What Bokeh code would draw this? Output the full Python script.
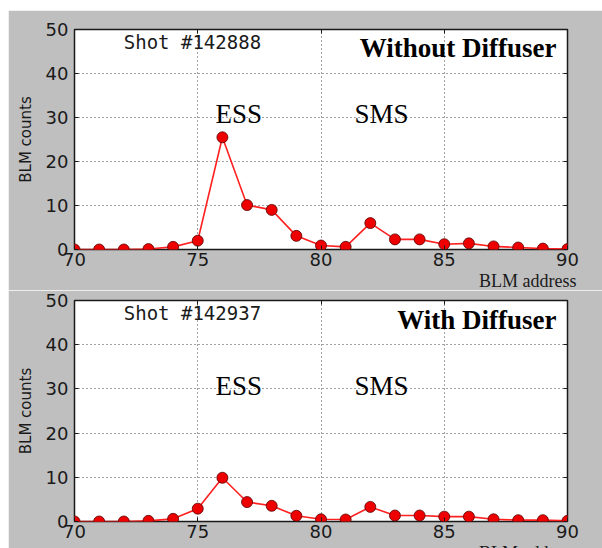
from bokeh.plotting import figure
from bokeh.layouts import column
from bokeh.models import (ColumnDataSource, FixedTicker, LinearAxis, Label,
                          CustomJSTickFormatter, Range1d, Title)
from bokeh.embed import file_html
from bokeh.resources import INLINE

# ---- data ----
blm_address = list(range(70, 91))
counts_without = [0, 0, 0, 0.1, 0.6, 2.0, 25.5, 10.1, 9.0, 3.1, 0.9, 0.6,
                  6.0, 2.3, 2.3, 1.2, 1.4, 0.7, 0.45, 0.2, 0.1]
counts_with = [0, 0, 0, 0.15, 0.6, 2.9, 9.9, 4.4, 3.55, 1.3, 0.5, 0.45,
               3.3, 1.35, 1.35, 1.1, 1.1, 0.5, 0.3, 0.3, 0.15]
x_ticks = [70, 75, 80, 85, 90]
y_ticks = [0, 10, 20, 30, 40, 50]
shots = ["Shot #142888", "Shot #142937"]
titles = ["Without Diffuser", "With Diffuser"]

GREY = "#bfbfbf"


def make_panel(counts, shot, title, border_top, frame_h, border_bottom, margin):
    p = figure(frame_width=493, frame_height=frame_h,
               min_border_left=66, min_border_right=35,
               min_border_top=border_top, min_border_bottom=border_bottom,
               x_range=Range1d(70, 90), y_range=Range1d(0, 50),
               output_backend="svg", toolbar_location=None,
               background_fill_color="white", border_fill_color=GREY)
    p.margin = margin
    p.outline_line_color = "#1a1a1a"
    p.outline_line_width = 1.5

    for ax in (p.xaxis[0], p.yaxis[0]):
        ax.major_tick_in = 4
        ax.major_tick_out = 0
        ax.minor_tick_in = 0
        ax.minor_tick_out = 0
        ax.axis_line_color = None
        ax.major_tick_line_color = "#1a1a1a"
        ax.major_label_text_font = "DejaVu Sans"
        ax.major_label_text_font_size = "18px"
        ax.major_label_text_color = "#1a1a1a"
    p.xaxis[0].ticker = FixedTicker(ticks=x_ticks)
    p.yaxis[0].ticker = FixedTicker(ticks=y_ticks)
    p.xaxis[0].major_label_standoff = 3
    p.xaxis[0].major_label_text_line_height = 0.7
    p.yaxis[0].major_label_standoff = 6
    p.yaxis[0].axis_label = "BLM counts"
    p.yaxis[0].axis_label_text_font = "DejaVu Sans"
    p.yaxis[0].axis_label_text_font_size = "15px"
    p.yaxis[0].axis_label_text_font_style = "normal"
    p.yaxis[0].axis_label_text_color = "#1a1a1a"
    p.yaxis[0].axis_label_standoff = 8

    # x axis label, right aligned and tucked up next to the tick labels
    xa = p.xaxis[0]
    placed = False
    try:
        xa.axis_label_align = "right"
        xa.axis_label = "BLM address"
        xa.axis_label_text_font = "Liberation Serif"
        xa.axis_label_text_font_size = "18px"
        xa.axis_label_text_font_style = "normal"
        xa.axis_label_text_color = "#1a1a1a"
        xa.axis_label_text_line_height = 0.7
        xa.axis_label_standoff = 0
        placed = True
    except Exception:
        xa.axis_label = None
    if not placed:
        p.add_layout(Title(text="BLM address", align="right", offset=-9,
                           text_font="Liberation Serif", text_font_size="18px",
                           text_font_style="normal", text_color="#1a1a1a",
                           standoff=0), "below")

    blank = CustomJSTickFormatter(code="return ''")
    for loc, tick in (("right", y_ticks), ("above", x_ticks)):
        ax = LinearAxis(ticker=FixedTicker(ticks=tick), formatter=blank,
                        major_tick_in=4, major_tick_out=0,
                        minor_tick_in=0, minor_tick_out=0,
                        axis_line_color=None, major_label_standoff=0,
                        major_tick_line_color="#1a1a1a",
                        major_label_text_font_size="1px")
        p.add_layout(ax, loc)

    p.grid.grid_line_color = "#444444"
    p.grid.grid_line_dash = "1 3"
    p.grid.grid_line_width = 1
    p.xgrid.ticker = FixedTicker(ticks=x_ticks)
    p.ygrid.ticker = FixedTicker(ticks=y_ticks)

    src = ColumnDataSource(dict(x=blm_address, y=counts))
    p.line("x", "y", source=src, line_color="#ff2020", line_width=1.6)
    p.scatter("x", "y", source=src, size=11, fill_color="#ee0000",
              line_color="#550000", line_width=0.8)

    p.add_layout(Label(x=72, y=47.1, text=shot, text_font="DejaVu Sans Mono",
                       text_font_size="19px", text_color="#1a1a1a",
                       text_baseline="alphabetic"))
    p.add_layout(Label(x=89.55, y=45.7, text=title, text_font="Liberation Serif",
                       text_font_style="bold", text_font_size="27px",
                       text_color="black", text_align="right",
                       text_baseline="alphabetic"))
    p.add_layout(Label(x=75.72, y=30.7, text="ESS", text_font="Liberation Serif",
                       text_font_size="27px", text_color="black",
                       text_baseline="alphabetic"))
    p.add_layout(Label(x=81.36, y=30.7, text="SMS", text_font="Liberation Serif",
                       text_font_size="27px", text_color="black",
                       text_baseline="alphabetic"))
    return p


p1 = make_panel(counts_without, shots[0], titles[0], 19, 220, 35, (10, 0, 0, 8))
p2 = make_panel(counts_with, shots[1], titles[1], 10, 221, 33, (0, 0, 0, 8))

layout = column(p1, p2, spacing=0)

open("out.html", "w").write(file_html(layout, INLINE))
